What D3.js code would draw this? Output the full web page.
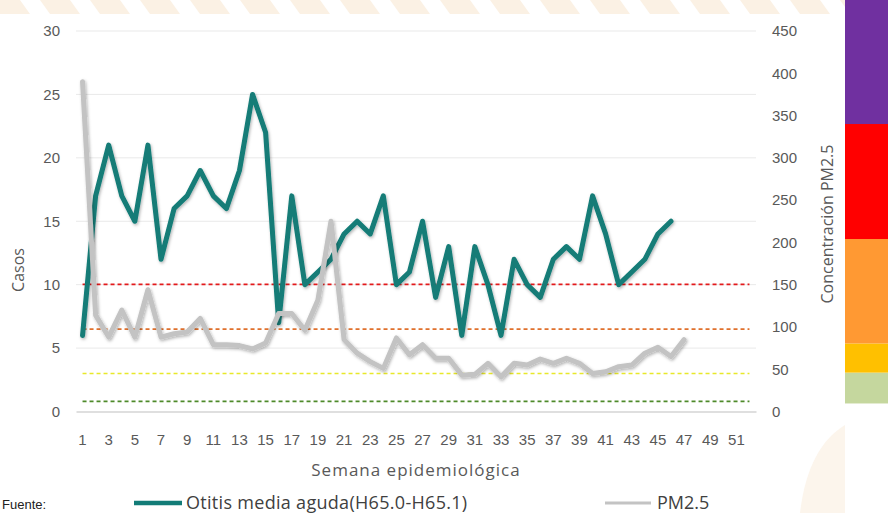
<!DOCTYPE html>
<html>
<head>
<meta charset="utf-8">
<script src="https://cdn.jsdelivr.net/npm/d3@7"></script>
<style>
  body { margin: 0; background: #fff; }
  svg { display: block; font-family: "Open Sans", sans-serif; }
</style>
</head>
<body>
<div class="chart"></div>
<script>
// semanas 1..52
const weeks = d3.range(1, 53);
const xTicks = d3.range(1, 53, 2);

// casos de otitis media aguda, semanas 1..46
const otitis = [6, 17, 21, 17, 15, 21, 12, 16, 17, 19, 17, 16, 19, 25, 22, 7, 17, 10, 11, 12,
  14, 15, 14, 17, 10, 11, 15, 9, 13, 6, 13, 10, 6, 12, 10, 9, 12, 13, 12, 17, 14, 10, 11, 12, 14, 15];

// PM2.5, semanas 1..47
const pm25 = [390, 114, 88, 120, 88, 144, 88, 92, 94, 110, 79, 79, 78, 74, 81, 116, 116, 96, 132, 225,
  85, 69, 59, 51, 87, 67, 79, 63, 63, 43, 44, 57, 41, 57, 55, 62, 57, 63, 57, 45, 47, 53, 55, 69, 76, 65, 85];

// límites de calidad del aire (PM2.5)
const limits = [12, 45, 97.4, 150.4];
const limitColors = ["#4e8a2a", "#e8e82a", "#e0702c", "#e31a1c"];

// barra de colores a la derecha (en unidades de PM2.5)
const bandEdges = [9.5, 46, 80.5, 204, 340, 490];
const bandColors = ["#c5d79e", "#ffc000", "#ff9933", "#ff0000", "#7030a0"];

const yTicksLeft = d3.range(0, 31, 5);
const yTicksRight = d3.range(0, 451, 50);

const width = 888, height = 513;
const mLeft = 76, mRight = 756, mTop = 31, mBottom = 411.5;

const svg = d3.select('.chart').append('svg')
  .attr('width', width).attr('height', height);

const defs = svg.append('defs');
const f = defs.append('filter').attr('id', 'sh')
  .attr('x', '-10%').attr('y', '-10%').attr('width', '120%').attr('height', '120%');
f.append('feDropShadow').attr('dx', 1).attr('dy', 1.5).attr('stdDeviation', 1.5)
  .attr('flood-color', '#000').attr('flood-opacity', 0.3);

// fondo decorativo tenue
svg.append('g').selectAll('path')
  .data(d3.range(0, 18))
  .join('path')
  .attr('d', i => `M${i * 50 - 10},0 L${i * 50 + 20},0 L${i * 50 + 30},14 L${i * 50},14 Z`)
  .attr('fill', '#fbf1e4');
svg.append('path')
  .attr('d', 'M800,513 C805,470 820,440 845,425 L845,513 Z')
  .attr('fill', '#fcf5ec');

const x = d3.scaleBand().domain(weeks).range([mLeft, mRight]);
const cx = w => x(w) + x.bandwidth() / 2;
const yL = d3.scaleLinear().domain([0, 30]).range([mBottom, mTop]);
const yR = d3.scaleLinear().domain([0, 450]).range([mBottom, mTop]);

// líneas de cuadrícula
svg.append('g').selectAll('line')
  .data(yTicksLeft.slice(1))
  .join('line')
  .attr('x1', mLeft).attr('x2', mRight)
  .attr('y1', d => yL(d)).attr('y2', d => yL(d))
  .attr('stroke', '#e9e9e9').attr('stroke-width', 1);

// eje izquierdo
const axL = svg.append('g').attr('transform', `translate(${mLeft - 16},0)`)
  .call(d3.axisLeft(yL).tickValues(yTicksLeft).tickSize(0).tickPadding(0));
axL.select('.domain').remove();
axL.selectAll('text').attr('fill', '#595959').style('font-size', '15px');

// eje derecho
const axR = svg.append('g').attr('transform', `translate(${mRight + 16},0)`)
  .call(d3.axisRight(yR).tickValues(yTicksRight).tickSize(0).tickPadding(0));
axR.select('.domain').remove();
axR.selectAll('text').attr('fill', '#595959').style('font-size', '15px');

// eje x
const axX = svg.append('g').attr('transform', `translate(0,${mBottom})`)
  .call(d3.axisBottom(x).tickValues(xTicks).tickSize(0).tickPadding(23));
axX.select('.domain').attr('stroke', '#d4d4d4').attr('stroke-width', 1.5);
axX.selectAll('text').attr('fill', '#595959').style('font-size', '15px');

// títulos de ejes
svg.append('text').attr('transform', 'translate(24,270) rotate(-90)')
  .attr('text-anchor', 'middle').attr('fill', '#595959')
  .style('font-size', '16px').text('Casos');
svg.append('text').attr('transform', 'translate(833,224) rotate(-90)')
  .attr('text-anchor', 'middle').attr('fill', '#595959')
  .style('font-size', '16px').text('Concentración PM2.5');
svg.append('text').attr('x', 416).attr('y', 476)
  .attr('text-anchor', 'middle').attr('fill', '#595959')
  .style('font-size', '17px').style('letter-spacing', '1px').text('Semana epidemiológica');

// límites punteados
svg.append('g').selectAll('path')
  .data(limits)
  .join('path')
  .attr('d', v => d3.line().x(w => cx(w)).y(() => yR(v))(weeks))
  .attr('fill', 'none')
  .attr('stroke', (d, i) => limitColors[i])
  .attr('stroke-width', 1.6)
  .attr('stroke-dasharray', '4,3');

// series
const lineOt = d3.line().x((d, i) => cx(i + 1)).y(d => yL(d));
const linePm = d3.line().x((d, i) => cx(i + 1)).y(d => yR(d));

svg.append('path').datum(otitis)
  .attr('d', lineOt).attr('fill', 'none')
  .attr('stroke', '#127c77').attr('stroke-width', 5)
  .attr('stroke-linejoin', 'round').attr('stroke-linecap', 'round')
  .attr('filter', 'url(#sh)');

svg.append('path').datum(pm25)
  .attr('d', linePm).attr('fill', 'none')
  .attr('stroke', '#c3c3c3').attr('stroke-width', 5)
  .attr('stroke-linejoin', 'round').attr('stroke-linecap', 'round')
  .attr('filter', 'url(#sh)');

// barra de colores
svg.append('g').selectAll('rect')
  .data(bandColors)
  .join('rect')
  .attr('x', 845).attr('width', 43)
  .attr('y', (d, i) => yR(bandEdges[i + 1]))
  .attr('height', (d, i) => yR(bandEdges[i]) - yR(bandEdges[i + 1]))
  .attr('fill', d => d);

// leyenda
const legend = svg.append('g').style('font-size', '18px').attr('fill', '#404040');
legend.append('line').attr('x1', 134).attr('x2', 182).attr('y1', 503).attr('y2', 503)
  .attr('stroke', '#127c77').attr('stroke-width', 4.5);
legend.append('text').attr('x', 186).attr('y', 509).style('letter-spacing', '0.3px')
  .text('Otitis media aguda(H65.0-H65.1)');
legend.append('line').attr('x1', 605).attr('x2', 651).attr('y1', 503).attr('y2', 503)
  .attr('stroke', '#c3c3c3').attr('stroke-width', 3);
legend.append('text').attr('x', 657).attr('y', 509).text('PM2.5');

// fuente
svg.append('text').attr('x', 2).attr('y', 509).attr('fill', '#222')
  .attr('font-family', 'Arial, sans-serif').style('font-size', '13px').text('Fuente:');
</script>
</body>
</html>
